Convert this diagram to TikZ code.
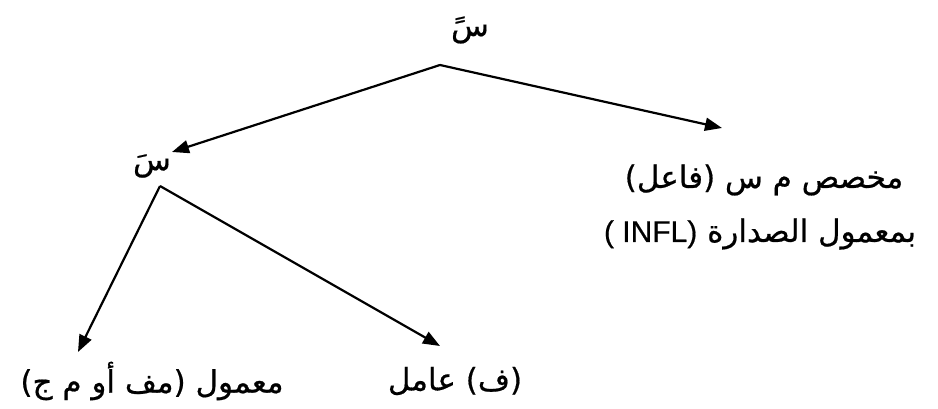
\documentclass[tikz,border=0pt]{standalone}
\usepackage{fontspec}
\setmainfont{Liberation Sans}
\newfontfamily\arabicfont[Script=Arabic,FakeBold=0.6]{DejaVu Sans}
\newfontfamily\latinfont[FakeBold=0.6]{Liberation Sans}
\TeXXeTstate=1
\usetikzlibrary{arrows.meta}
\tikzset{
  lbl/.style={inner sep=0pt, font=\arabicfont\fontsize{31}{37}\selectfont},
  arr/.style={line width=2.2pt, -{Triangle[length=17pt,width=13pt]}}
}
\begin{document}
\begin{tikzpicture}[x=1pt,y=-1pt]
\useasboundingbox (0,0) rectangle (938,409);
\fill[white] (0,0) rectangle (938,409);
\node[lbl] (top) at (470,30) {\beginR سً\endR};
\coordinate (apex) at (440,65);
\node[lbl] (mid) at (152,166) {\beginR سَ\endR};
\coordinate (midfoot) at (160,186);
\node[lbl] (spec1) at (764,180) {\beginR مخصص م س (فاعل)\endR};
\node[lbl] (spec2) at (760,234) {\beginR بمعمول الصدارة \beginL{\latinfont\fontsize{30}{35}\selectfont ( INFL)}\endL\endR};
\node[lbl] (comp) at (152,381) {\beginR معمول (مف أو م ج)\endR};
\node[lbl] (head) at (455,381) {\beginR (ف) عامل\endR};
\coordinate (tipR) at (722,128);
\coordinate (tipM) at (172,152);
\coordinate (tipC) at (78,352);
\coordinate (tipH) at (440,346);
\draw[arr] (apex) -- (tipR);
\draw[arr] (apex) -- (tipM);
\draw[arr] (midfoot) -- (tipC);
\draw[arr] (midfoot) -- (tipH);
\end{tikzpicture}
\end{document}
